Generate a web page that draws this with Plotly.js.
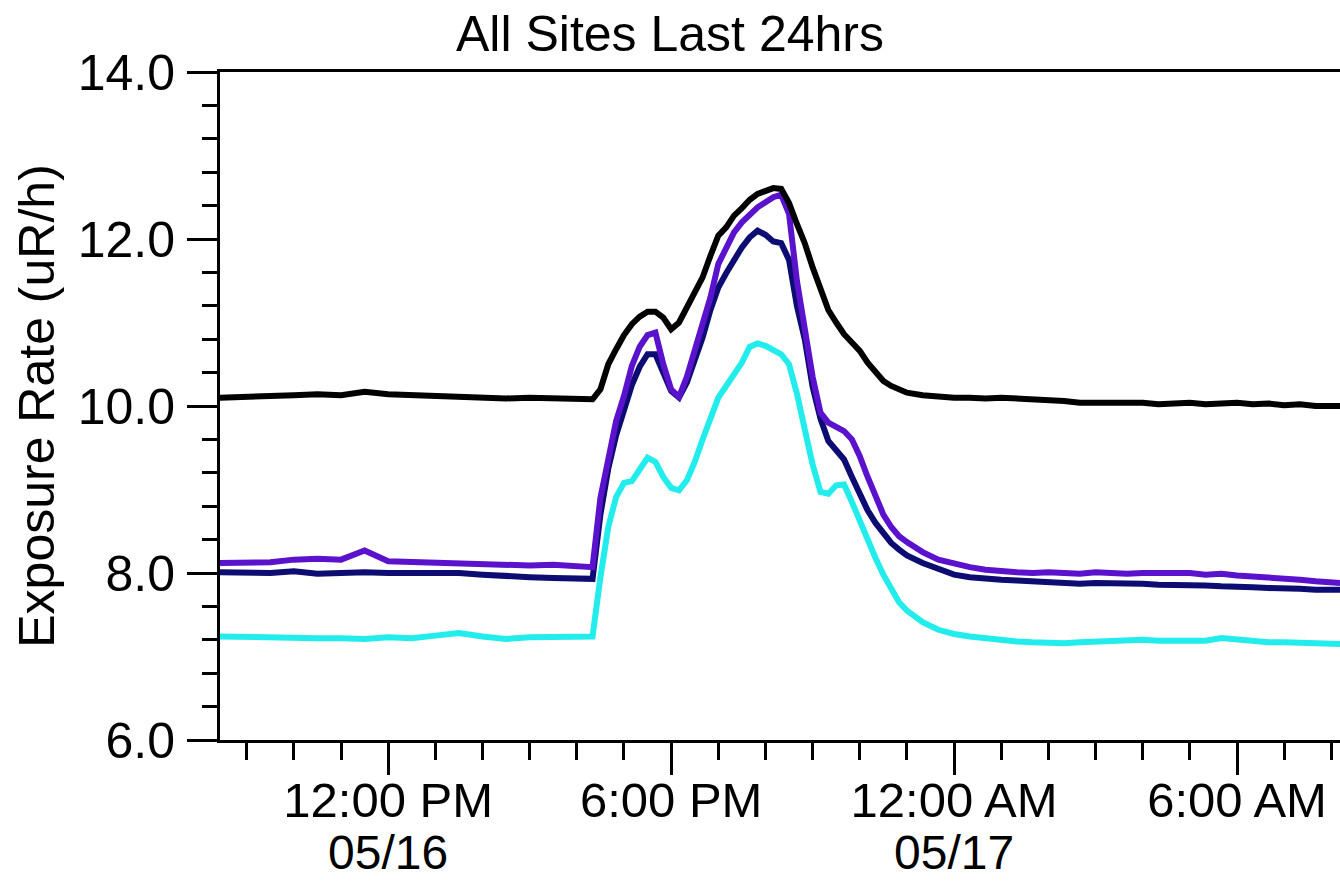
<!DOCTYPE html>
<html>
<head>
<meta charset="utf-8">
<script src="https://cdn.plot.ly/plotly-3.0.1.min.js"></script>
<style>
html,body{margin:0;padding:0;background:#fff;}
#chart{width:1340px;height:882px;}
</style>
</head>
<body>
<div id="chart"></div>
<script>
const times = [
  '2012-05-16 08:26','2012-05-16 09:00','2012-05-16 09:30','2012-05-16 10:00','2012-05-16 10:30',
  '2012-05-16 11:00','2012-05-16 11:30','2012-05-16 12:00','2012-05-16 12:30','2012-05-16 13:00',
  '2012-05-16 13:30','2012-05-16 14:00','2012-05-16 14:30','2012-05-16 15:00','2012-05-16 15:30',
  '2012-05-16 16:00','2012-05-16 16:20',
  '2012-05-16 16:30','2012-05-16 16:40','2012-05-16 16:50','2012-05-16 17:00','2012-05-16 17:10',
  '2012-05-16 17:20','2012-05-16 17:30','2012-05-16 17:40','2012-05-16 17:50','2012-05-16 18:00',
  '2012-05-16 18:10','2012-05-16 18:20','2012-05-16 18:30','2012-05-16 18:40','2012-05-16 18:50',
  '2012-05-16 19:00','2012-05-16 19:10','2012-05-16 19:20','2012-05-16 19:30','2012-05-16 19:40',
  '2012-05-16 19:50','2012-05-16 20:00','2012-05-16 20:10','2012-05-16 20:20','2012-05-16 20:30',
  '2012-05-16 20:40','2012-05-16 20:50','2012-05-16 21:00','2012-05-16 21:10','2012-05-16 21:20',
  '2012-05-16 21:30','2012-05-16 21:40','2012-05-16 21:50','2012-05-16 22:00','2012-05-16 22:10',
  '2012-05-16 22:20','2012-05-16 22:30','2012-05-16 22:40','2012-05-16 22:50','2012-05-16 23:00',
  '2012-05-16 23:20','2012-05-16 23:40','2012-05-17 00:00','2012-05-17 00:20','2012-05-17 00:40',
  '2012-05-17 01:00','2012-05-17 01:20','2012-05-17 01:40','2012-05-17 02:00','2012-05-17 02:20',
  '2012-05-17 02:40','2012-05-17 03:00','2012-05-17 03:20','2012-05-17 03:40','2012-05-17 04:00',
  '2012-05-17 04:20','2012-05-17 04:40','2012-05-17 05:00','2012-05-17 05:20','2012-05-17 05:40',
  '2012-05-17 06:00','2012-05-17 06:20','2012-05-17 06:40','2012-05-17 07:00','2012-05-17 07:20',
  '2012-05-17 07:40','2012-05-17 08:00','2012-05-17 08:12'
];

const siteBlack = [
  10.10,10.12,10.12,10.13,10.14,10.13,10.17,10.14,10.13,10.12,10.10,10.10,10.09,10.10,10.09,10.09,10.08,
  10.20,10.50,10.68,10.85,10.98,11.07,11.13,11.13,11.06,10.92,11.00,11.17,11.36,11.54,11.80,12.04,12.14,12.28,12.37,12.47,
  12.54,12.58,12.61,12.60,12.43,12.18,11.95,11.66,11.38,11.15,11.00,10.86,10.76,10.66,10.52,10.40,10.30,10.24,10.20,10.16,
  10.13,10.11,10.10,10.10,10.09,10.10,10.09,10.08,10.08,10.06,10.04,10.04,10.04,10.03,10.04,10.02,10.03,10.04,10.02,10.03,
  10.04,10.02,10.03,10.01,10.02,10.00,10.01,10.00
];

const sitePurple = [
  8.12,8.12,8.13,8.16,8.17,8.16,8.27,8.14,8.13,8.13,8.12,8.11,8.10,8.09,8.10,8.08,8.07,
  8.90,9.40,9.82,10.12,10.48,10.71,10.85,10.88,10.50,10.20,10.11,10.35,10.68,10.99,11.30,11.70,11.90,12.08,12.20,12.30,
  12.38,12.44,12.50,12.53,12.30,11.50,10.90,10.35,9.92,9.80,9.75,9.70,9.60,9.40,9.15,8.90,8.70,8.55,8.44,8.37,
  8.25,8.16,8.11,8.07,8.04,8.02,8.01,8.00,8.01,8.00,7.99,8.01,8.00,7.99,8.00,8.00,7.99,8.00,7.98,7.99,
  7.97,7.96,7.95,7.94,7.92,7.90,7.89,7.88
];

const siteNavy = [
  8.01,8.01,8.00,8.02,7.99,8.00,8.01,8.00,8.00,8.00,8.00,7.98,7.96,7.95,7.94,7.94,7.93,
  8.70,9.25,9.65,9.95,10.25,10.47,10.62,10.62,10.40,10.18,10.10,10.28,10.55,10.82,11.15,11.42,11.59,11.75,11.90,12.02,
  12.10,12.05,11.97,11.95,11.75,11.20,10.80,10.23,9.85,9.58,9.47,9.36,9.15,8.95,8.75,8.60,8.47,8.36,8.28,8.21,
  8.12,8.05,7.98,7.95,7.93,7.92,7.91,7.90,7.90,7.89,7.87,7.88,7.88,7.87,7.87,7.86,7.86,7.85,7.85,7.84,
  7.84,7.83,7.82,7.82,7.81,7.80,7.80,7.80
];

const siteCyan = [
  7.24,7.23,7.23,7.22,7.22,7.22,7.21,7.23,7.22,7.25,7.28,7.24,7.21,7.23,7.23,7.24,7.24,
  7.95,8.55,8.91,9.08,9.10,9.25,9.38,9.33,9.15,9.02,8.99,9.11,9.33,9.60,9.85,10.10,10.24,10.37,10.52,10.71,
  10.75,10.72,10.67,10.62,10.50,10.15,9.72,9.30,8.97,8.95,9.05,9.06,8.85,8.62,8.40,8.18,7.98,7.80,7.65,7.55,
  7.41,7.32,7.27,7.24,7.22,7.19,7.18,7.17,7.16,7.16,7.17,7.18,7.19,7.19,7.20,7.19,7.19,7.20,7.19,7.22,
  7.20,7.18,7.17,7.17,7.16,7.16,7.15,7.15
];

const dateLabels = ['05/16', '05/17'];
const dateLabelTimes = ['2012-05-16 12:00', '2012-05-17 00:00'];

const FONT = 'Liberation Sans, Arial, sans-serif';

const traces = [
  {x: times, y: siteCyan, name: 'Cyan site', color: '#22ecec'},
  {x: times, y: siteNavy, name: 'Navy site', color: '#0c0c72'},
  {x: times, y: sitePurple, name: 'Purple site', color: '#5a12cc'},
  {x: times, y: siteBlack, name: 'Black site', color: '#000000'}
].map(t => ({
  x: t.x, y: t.y, name: t.name, type: 'scatter', mode: 'lines',
  line: {color: t.color, width: 6}, hoverinfo: 'skip'
}));

const annotations = dateLabels.map((txt, i) => ({
  x: dateLabelTimes[i], xref: 'x', y: -0.2095, yref: 'paper',
  text: txt, showarrow: false, xanchor: 'center', yanchor: 'bottom',
  borderpad: 0,
  font: {family: FONT, size: 48, color: '#000'}
}));

const layout = {
  width: 1340, height: 882,
  margin: {l: 220, r: 0, t: 72, b: 142},
  paper_bgcolor: '#fff', plot_bgcolor: '#fff',
  showlegend: false,
  font: {family: FONT, size: 50, color: '#000'},
  title: {
    text: 'All Sites Last 24hrs',
    font: {family: FONT, size: 50, color: '#000'},
    x: 0.5, xref: 'container', xanchor: 'center',
    y: 0.962, yref: 'container', yanchor: 'middle'
  },
  xaxis: {
    type: 'date',
    range: ['2012-05-16 08:26', '2012-05-17 08:11'],
    tickmode: 'linear', tick0: '2012-05-16 12:00', dtick: 6 * 3600000,
    tickformat: '%-I:%M %p',
    ticks: 'outside', ticklen: 32, tickwidth: 3, tickcolor: '#000',
    minor: {ticks: 'outside', dtick: 3600000, tick0: '2012-05-16 12:00', ticklen: 17, tickwidth: 3, tickcolor: '#000', showgrid: false},
    showline: true, linewidth: 3, linecolor: '#000', mirror: true,
    showgrid: false, zeroline: false,
    ticklabelstandoff: -17,
    tickfont: {family: FONT, size: 49, color: '#000'}
  },
  yaxis: {
    range: [6, 14],
    tickmode: 'linear', tick0: 6, dtick: 2, tickformat: '.1f',
    ticks: 'outside', ticklen: 30, tickwidth: 3, tickcolor: '#000',
    minor: {ticks: 'outside', dtick: 0.4, tick0: 6, ticklen: 15, tickwidth: 3, tickcolor: '#000', showgrid: false},
    showline: true, linewidth: 3, linecolor: '#000', mirror: false,
    showgrid: false, zeroline: false,
    ticklabelstandoff: 2,
    tickfont: {family: FONT, size: 50, color: '#000'},
    title: {text: 'Exposure Rate (uR/h)', font: {family: FONT, size: 50, color: '#000'}, standoff: 8}
  },
  annotations: annotations
};

Plotly.newPlot('chart', traces, layout, {displayModeBar: false, staticPlot: true});
</script>
</body>
</html>
